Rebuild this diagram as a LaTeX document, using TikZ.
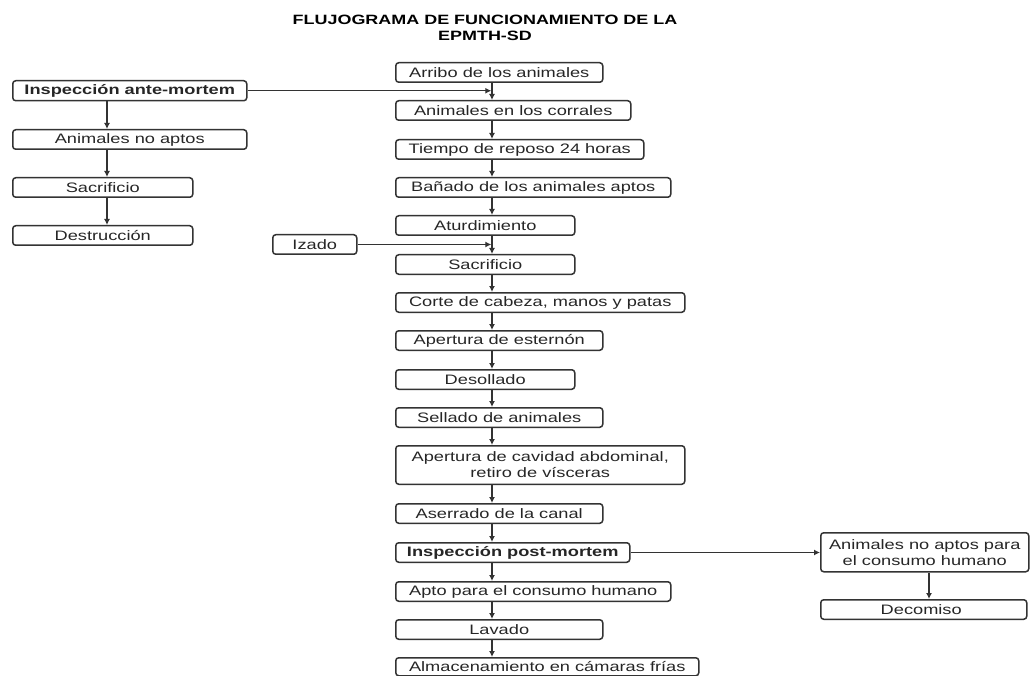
\documentclass[tikz,border=0pt]{standalone}
\usepackage{fontspec}
\setmainfont{Liberation Sans}[FakeStretch=1.33]
\usetikzlibrary{arrows.meta}

\definecolor{boxline}{HTML}{333333}
\definecolor{boxtext}{HTML}{262626}

\begin{document}
\begin{tikzpicture}[x=1pt,y=-1pt,
  box/.style={draw=boxline,line width=1.5pt,rounded corners=3pt,anchor=north west,
    inner sep=0pt,text=boxtext,align=center,font=\fontsize{13.7}{16}\selectfont},
  arr/.style={draw=boxline,line width=1.3pt,-{Latex[length=6pt,width=6pt]}}]

\useasboundingbox (0,0) rectangle (1030,676);

\node[font=\bfseries\fontsize{13.5}{16}\selectfont,align=center,anchor=north,inner sep=0pt]
  (titulo) at (485,15) {FLUJOGRAMA DE FUNCIONAMIENTO DE LA\\EPMTH-SD};

% cajas: nombre/x/y/ancho/alto/texto
\foreach \n/\x/\y/\w/\h/\t in {
ante/12/80/234/20/\textbf{Inspección ante-mortem},
noaptos/12/129/234/19.5/Animales no aptos,
sacrizq/12/177/180/19.5/Sacrificio,
destr/12/225/180/19.5/Destrucción,
arribo/395/62/207/19.5/Arribo de los animales,
corrales/395/100/235/19.5/Animales en los corrales,
reposo/395/139/248/19.5/Tiempo de reposo 24 horas,
banado/395/177/275/19.5/Bañado de los animales aptos,
aturd/395/215/179/19.5/Aturdimiento,
izado/272/234/84/19.5/Izado,
sacrif/395/254/179/19.5/Sacrificio,
corte/395/292/289/19.5/{Corte de cabeza, manos y patas},
estern/395/330/207/19.5/Apertura de esternón,
desoll/395/369/179/19.5/Desollado,
sellado/395/407/207/19.5/Sellado de animales,
cavidad/395/445/289/38.5/{Apertura de cavidad abdominal,\\retiro de vísceras},
aserr/395/503/207/19.5/Aserrado de la canal,
post/395/542/234/19.5/\textbf{Inspección post-mortem},
apto/395/581/275/19.5/Apto para el consumo humano,
lavado/395/619/207/19.5/Lavado,
almac/395/657/303/18/Almacenamiento en cámaras frías,
noapto/820/532/208/39/{Animales no aptos para\\el consumo humano},
decom/820/599/206/19.5/Decomiso
}{
\node[box,minimum width=\w pt,minimum height=\h pt] (\n) at (\x,\y) {\t};
}

\coordinate (ejeizq) at (107,0);
\coordinate (ejecen) at (492,0);
\coordinate (ejeder) at (929,0);

\foreach \a/\b in {arribo/corrales,corrales/reposo,reposo/banado,banado/aturd,
  aturd/sacrif,sacrif/corte,corte/estern,estern/desoll,desoll/sellado,
  sellado/cavidad,cavidad/aserr,aserr/post,post/apto,apto/lavado,lavado/almac}{
\draw[arr] (\a.south -| ejecen) -- (\b.north -| ejecen);
}
\foreach \a/\b in {ante/noaptos,noaptos/sacrizq,sacrizq/destr}{
\draw[arr] (\a.south -| ejeizq) -- (\b.north -| ejeizq);
}
\draw[arr] (noapto.south -| ejeder) -- (decom.north -| ejeder);

\draw[arr,shorten >=0.7pt] (ante.east) -- (ante.east -| ejecen);
\draw[arr,shorten >=0.7pt] (izado.east) -- (izado.east -| ejecen);
\draw[arr] (post.east) -- (noapto.west |- post.east);

\end{tikzpicture}
\end{document}
